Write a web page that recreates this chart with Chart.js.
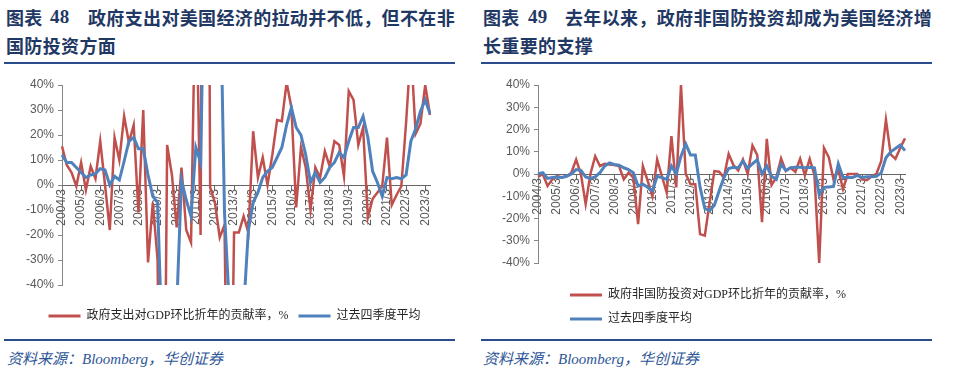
<!DOCTYPE html>
<html><head><meta charset="utf-8">
<script src="https://cdn.jsdelivr.net/npm/chart.js@4.4.1/dist/chart.umd.min.js"></script>
<style>
html,body{margin:0;padding:0;background:#fff;}
body{width:960px;height:373px;position:relative;overflow:hidden;font-family:"Noto Sans CJK SC",sans-serif;}
.t{position:absolute;font-size:18px;font-weight:700;color:#1F3864;white-space:nowrap;line-height:18px;letter-spacing:0.35px;}
.num{font-family:"Liberation Serif","Noto Sans CJK SC",serif;font-size:19px;}
.rule{position:absolute;height:2px;background:#2A4C8A;}
.src{position:absolute;font-size:15px;font-style:italic;color:#2E5597;white-space:nowrap;line-height:15px;font-family:"Liberation Serif","Noto Sans CJK SC",serif;}
canvas{position:absolute;}
</style></head><body>
<div class="t" style="left:6px;top:8px">图表</div>
<div class="t num" style="left:50px;top:8px">48</div>
<div class="t" style="left:88px;top:8px">政府支出对美国经济的拉动并不低，但不在非</div>
<div class="t" style="left:6px;top:36px">国防投资方面</div>
<div class="t" style="left:483px;top:8px">图表</div>
<div class="t num" style="left:528px;top:8px">49</div>
<div class="t" style="left:565px;top:8px">去年以来，政府非国防投资却成为美国经济增</div>
<div class="t" style="left:483px;top:36px">长重要的支撑</div>
<div class="rule" style="left:4px;top:62px;width:451px"></div>
<div class="rule" style="left:481px;top:62px;width:451px"></div>
<div class="rule" style="left:4px;top:339px;width:451px"></div>
<div class="rule" style="left:481px;top:339px;width:451px"></div>
<div class="src" style="left:7px;top:352px">资料来源：Bloomberg，华创证券</div>
<div class="src" style="left:483px;top:352px">资料来源：Bloomberg，华创证券</div>
<canvas id="c1" width="470" height="262" style="left:0;top:70px;width:470px;height:262px"></canvas>
<canvas id="c2" width="480" height="265" style="left:480px;top:70px;width:480px;height:265px"></canvas>
<script>
// categories: quarters 2004/3 ... 2023/6
const years = [];
for (let y = 2004; y <= 2023; y++) years.push(y);
const months = [3, 6, 9, 12];
const quarters = [];
years.forEach(y => months.forEach(m => { if (!(y === 2023 && m > 6)) quarters.push(y + '/' + m); }));

const yTicks = [-40, -30, -20, -10, 0, 10, 20, 30, 40];

// Chart 48: government spending contribution ratio (%), and 4-quarter average
const govSpend = [15.5, 8, 5, -0.5, 9, -2, 7.5, 2.5, 17.5, 0, -18, 19, 10, 27.5, 17, 24, -11, 30, -31, -7,
  -30, -200, 16, 4, -17, 7, -18, -23, 90, -20, 400, -1, -7, -21, -16, -150, -19, -19, -12.5, -19,
  21.5, 3, 11, 0, 12, 26, 25.5, 41, 31, -9, 15, 7, -10, 7, 3, 13.5, 7.5, 17.5, 16, 3.5,
  37.5, 34, 16, 23, -13, -5.5, -3, -0.5, 19, -8, -4, -0.5, 25, 55, 20.5, 24.5, 40, 28];
const govSpendAvg = [12, 9, 9, 7, 5, 3, 4, 4.5, 6.5, 6, 0, 3.5, 2, 9.5, 17.5, 19, 14.5, 14.5, 4, -4.5,
  -7, -67, -55, -52, -49, 2, -6, -12.5, 15, 9, 112, 117, 93, 93, -11, -48, -52, -51, -50, -18,
  -7, -3, 3, 5.5, 7, 11, 15, 24, 31, 23, 20, 12, 1, 5, 1, 3, 7, 9, 13, 11,
  17.5, 23, 23, 27.5, 19, 5.5, 1, -4.5, 3, 2.5, 3, 2.5, 4, 17.5, 22.5, 29.5, 34, 28.5];

// Chart 49: government non-defense investment contribution ratio (%), and 4-quarter average
const nonDef = [-1.3, 0, -5.4, -2.4, -1, -1.6, -1, 0.6, 6.5, 0, -13.5, 0, 8, 3.6, 4.6, 4.3, 4, 3.6, -2.4, 0.6,
  -1.6, -22.5, 3.6, -3, -10, 6.5, -1, -8.3, 17, -6, 40, 0, -4.6, -4.6, -27, -27.7, -13, 1.3, 1, -1.6,
  9, 4, 1.6, 6.5, 0, 12.8, 8.5, -21.7, 15.8, -5, -1.6, 7, 1.3, 2.8, 1, 6.8, -0.6, 6.8, -0.4, -40,
  11.7, 7.6, -2.4, 2, -6.8, 0, 0, 0, -2.4, -2.8, -1, 0, 5.8, 24.4, 8.8, 6.8, 11.7, 16];
const nonDefAvg = [0, 0.6, -2, -1.6, -1.3, -1.6, -1, 0, 2, 1.6, -1.3, -2, -1.3, 0.6, 3.6, 5, 4.3, 4, 2.8, 2,
  0.6, -5.4, -4.6, -6, -7.6, -1, -1.6, -2.4, 3.6, 0, 8, 13.5, 8.5, 8.5, -6, -15.5, -16.5, -14, -7.6, -1.6,
  2.5, 3, 2.8, 5.8, 2.5, 4.6, 6.5, 0, 3.6, -1, -2.4, 4.3, 1.6, 2.8, 3, 3, 2.8, 3, 2.8, -9.4,
  -6, -5.8, -5.6, 4.6, -1.6, -1.6, -1.6, -0.6, -1.6, -1.2, -1.2, -1, 0.5, 7.3, 10, 11.5, 13, 10.5];

const RED = '#C0504D', BLUE = '#4F81BD';
const legendShift = {
  id: 'legendShift',
  afterLayout(chart, args, opts) {
    const l = chart.legend; if (!l) return;
    const dx = opts.dx || 0, dy = opts.dy || 0;
    l.left += dx; l.right += dx; l.top += dy; l.bottom += dy;
  }
};

function build(id, redLabel, redData, blueData, o) {
  const tickFont = {family: '"Liberation Sans", Arial, sans-serif', size: 12};
  return new Chart(document.getElementById(id), {
    type: 'line',
    data: {
      labels: quarters,
      datasets: [
        {label: redLabel, data: redData, borderColor: RED, backgroundColor: RED, borderWidth: 2.5, pointRadius: 0, tension: 0, order: 2},
        {label: '过去四季度平均', data: blueData, borderColor: BLUE, backgroundColor: BLUE, borderWidth: 3, pointRadius: 0, tension: 0, order: 1}
      ]
    },
    plugins: [legendShift],
    options: {
      responsive: false, animation: false, devicePixelRatio: 1,
      layout: {padding: o.padding},
      scales: {
        y: {
          min: -40, max: 40,
          afterBuildTicks: s => { s.ticks = yTicks.map(v => ({value: v})); },
          afterFit: s => { s.width = o.yWidth; },
          ticks: {font: tickFont, color: '#595959', padding: 4, callback: v => v + '%'},
          grid: {drawOnChartArea: false, color: '#858585', tickLength: 4},
          border: {color: '#858585', width: 1}
        },
        x: {
          position: {y: 0},
          afterFit: s => { s.height = 0; },
          ticks: {font: tickFont, color: '#595959', autoSkip: false, minRotation: 90, maxRotation: 90, padding: 0,
            callback: (v, i) => (i % 4 === 0 ? quarters[i] : null)},
          grid: {drawOnChartArea: false, color: '#666666', tickLength: 4},
          border: {color: '#666666', width: 1}
        }
      },
      plugins: {
        tooltip: {enabled: false},
        legendShift: {dx: o.dx, dy: o.dy},
        legend: {
          position: 'bottom', align: o.align, fullSize: o.fullSize,
          labels: {
            font: {family: '"Liberation Serif", "Noto Sans CJK SC", serif', size: 12},
            color: '#262626', boxWidth: 32, boxHeight: 3, padding: o.legPad,
            sort: (a, b) => a.datasetIndex - b.datasetIndex,
            generateLabels: chart => Chart.defaults.plugins.legend.labels.generateLabels(chart).map(l => Object.assign(l, {lineWidth: 0}))
          }
        }
      }
    }
  });
}

build('c1', '政府支出对GDP环比折年的贡献率，%', govSpend, govSpendAvg,
  {padding: {left: 0, right: 40, top: 15, bottom: 15}, yWidth: 62, align: 'center', fullSize: true, legPad: 10, dx: 19.5, dy: 15});
build('c2', '政府非国防投资对GDP环比折年的贡献率，%', nonDef, nonDefAvg,
  {padding: {left: 0, right: 55, top: 15, bottom: 14}, yWidth: 58, align: 'start', fullSize: false, legPad: 12, dx: 20, dy: 14});
</script>
</body></html>
